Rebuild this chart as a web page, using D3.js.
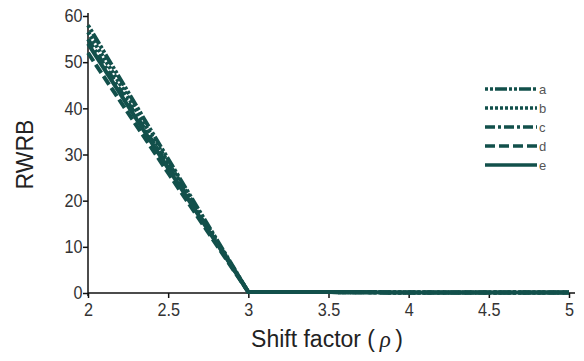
<!DOCTYPE html>
<html>
<head>
<meta charset="utf-8">
<script src="https://cdn.jsdelivr.net/npm/d3@7"></script>
<style>
  body { margin: 0; background: #fff; }
  svg { display: block; font-family: "Liberation Sans", Arial, sans-serif; }
</style>
</head>
<body>
<svg id="chart" width="584" height="361"></svg>
<script>
// datos
const shiftFactor = [2, 2.5, 3, 3.5, 4, 4.5, 5];
const serieA = [58, 29, 0.2, 0.2, 0.1, 0.1, 0.1];
const serieB = [56.5, 28.3, 0.2, 0.2, 0.1, 0.1, 0.1];
const serieC = [55, 27.5, 0.2, 0.2, 0.1, 0.1, 0.1];
const serieD = [52, 26, 0.2, 0.2, 0.1, 0.1, 0.1];
const serieE = [54, 27, 0.2, 0.2, 0.1, 0.1, 0.1];
const seriesNames = ["a", "b", "c", "d", "e"];
const xTicks = [2, 2.5, 3, 3.5, 4, 4.5, 5];
const yTicks = [0, 10, 20, 30, 40, 50, 60];

const dashes = {
  a: "3,2,3,2,12,2",
  b: "3,2",
  c: "10,3,3,3",
  d: "10,4",
  e: null
};
const color = "#12504b";

const series = [
  { name: "a", values: serieA },
  { name: "b", values: serieB },
  { name: "c", values: serieC },
  { name: "d", values: serieD },
  { name: "e", values: serieE }
];

const svg = d3.select("#chart");
const x = d3.scaleLinear().domain([2, 5]).range([88, 569]);
const y = d3.scaleLinear().domain([0, 60]).range([293, 16]);

// ejes
const xAxis = svg.append("g")
  .attr("transform", `translate(0,${y(0)})`)
  .call(d3.axisBottom(x).tickValues(xTicks).tickFormat(d3.format("")).tickSizeOuter(0).tickSize(5));
xAxis.select(".domain").attr("d", `M${x(2)},0H${x(5) + 6}`);

const yAxis = svg.append("g")
  .attr("transform", `translate(${x(2)},0)`)
  .call(d3.axisLeft(y).tickValues(yTicks).tickSizeOuter(0).tickSize(5));
yAxis.select(".domain").attr("d", `M0,${y(0) + 3}V${y(60) - 3}`);

svg.selectAll(".tick text")
  .attr("font-size", 18)
  .attr("fill", "#333")
  .attr("transform", "scale(0.9,1)")
  .attr("font-family", "'Liberation Sans', Arial, sans-serif");
xAxis.selectAll(".tick text").attr("dy", "0.85em");
yAxis.selectAll(".tick text").attr("x", -6);
svg.selectAll(".domain, .tick line").attr("stroke", "#111").attr("stroke-width", 1.5);

// lineas
const line = d3.line()
  .x((d, i) => x(shiftFactor[i]))
  .y(d => y(d));

svg.append("g")
  .selectAll("path")
  .data(series)
  .enter()
  .append("path")
  .attr("d", d => line(d.values))
  .attr("fill", "none")
  .attr("stroke", color)
  .attr("stroke-width", 4)
  .attr("stroke-dasharray", d => dashes[d.name]);

// leyenda
const legendY = d3.scalePoint().domain(seriesNames).range([89, 165]);
const legend = svg.append("g")
  .selectAll("g")
  .data(seriesNames)
  .enter()
  .append("g")
  .attr("transform", d => `translate(485,${legendY(d)})`);

legend.append("line")
  .attr("x1", 0).attr("x2", 52)
  .attr("stroke", color)
  .attr("stroke-width", 3.5)
  .attr("stroke-dasharray", d => dashes[d]);

legend.append("text")
  .attr("x", 54)
  .attr("dy", "0.35em")
  .attr("font-size", 13)
  .attr("fill", "#555")
  .text(d => d);

// titulos
svg.append("text")
  .attr("transform", `translate(33,${(y(0) + y(60)) / 2}) rotate(-90)`)
  .attr("text-anchor", "middle")
  .attr("font-size", 23)
  .attr("fill", "#222")
  .text("RWRB");

const xt = svg.append("text")
  .attr("x", 327)
  .attr("y", 347)
  .attr("text-anchor", "middle")
  .attr("font-size", 23)
  .attr("fill", "#222");
xt.append("tspan").text("Shift factor (\u2009");
xt.append("tspan").attr("font-style", "italic").attr("font-family", "'Liberation Serif', serif").text("\u03C1");
xt.append("tspan").text("\u2009)");
</script>
</body>
</html>
